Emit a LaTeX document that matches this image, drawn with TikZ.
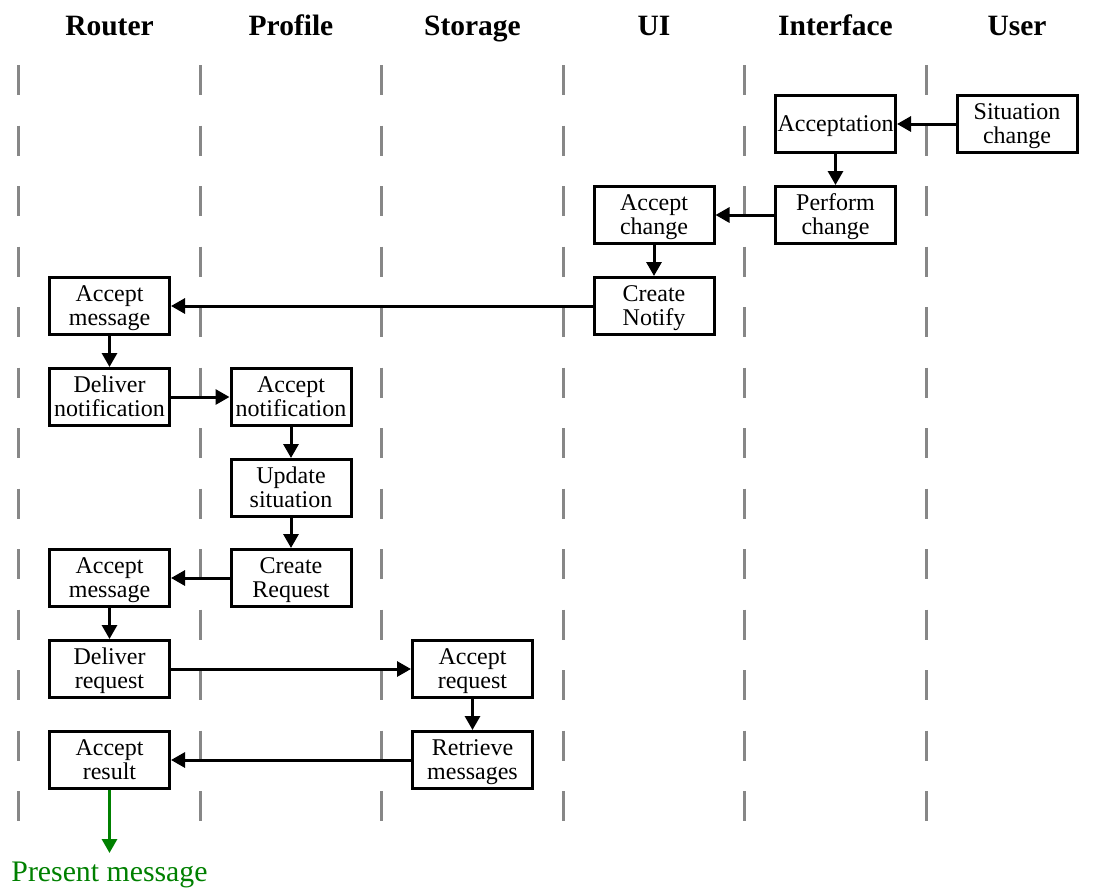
\documentclass[tikz,border=0pt]{standalone}
\usepackage{fontspec}
\setmainfont{Liberation Serif}
\usetikzlibrary{arrows.meta}
\definecolor{lanegray}{RGB}{135,135,135}
\definecolor{flowgreen}{RGB}{0,128,0}
% fixed first-line height and last-line depth so every box label sits at the same level
\newcommand\boxtopstrut{\rule{0pt}{21pt}}
\newcommand\boxbotstrut{\rule[-6pt]{0pt}{6pt}}
\begin{document}
\begin{tikzpicture}[x=1pt,y=-1pt,
  stepbox/.style={draw,line width=3pt,minimum width=120pt,minimum height=57pt,
    inner sep=0pt,text width=120pt,align=center,font=\fontsize{24}{24}\selectfont,
    execute at begin node=\boxtopstrut,execute at end node=\boxbotstrut},
  lanetitle/.style={anchor=base,font=\fontsize{29.5}{32}\selectfont\bfseries},
  lane/.style={draw=lanegray,line width=2.6pt,dash pattern=on 30pt off 30.5pt},
  flow/.style={line width=3pt,-{Triangle[length=14pt,width=15pt]}},
  result/.style={flow,draw=flowgreen,fill=flowgreen}]
\useasboundingbox (0,0) rectangle (1096,887);

% lane titles
\foreach \name [count=\i from 0] in {Router,Profile,Storage,UI,Interface,User}
  \node[lanetitle] (title\i) at (109.5+181.5*\i,35) {\name};

% lane separators
\foreach \i in {0,...,5}
  \draw[lane] (18.75+181.5*\i,65) -- (18.75+181.5*\i,821);

% activity boxes
\node[stepbox] (situation) at (1017,124) {Situation\\change};
\node[stepbox] (acceptation) at (835.5,124) {Acceptation};
\node[stepbox] (perform) at (835.5,215) {Perform\\change};
\node[stepbox] (acceptchange) at (654,215) {Accept\\change};
\node[stepbox] (notify) at (654,306) {Create\\Notify};
\node[stepbox] (acceptmsg) at (109.5,306) {Accept\\message};
\node[stepbox] (delivernote) at (109.5,397) {Deliver\\notification};
\node[stepbox] (acceptnote) at (291,397) {Accept\\notification};
\node[stepbox] (update) at (291,488) {Update\\situation};
\node[stepbox] (request) at (291,578) {Create\\Request};
\node[stepbox] (acceptmsgb) at (109.5,578) {Accept\\message};
\node[stepbox] (deliverreq) at (109.5,669) {Deliver\\request};
\node[stepbox] (acceptreq) at (472.5,669) {Accept\\request};
\node[stepbox] (retrieve) at (472.5,760) {Retrieve\\messages};
\node[stepbox] (acceptres) at (109.5,760) {Accept\\result};

% final output
\node[anchor=base,text=flowgreen,font=\fontsize{29.8}{32}\selectfont] (present) at (109.5,881) {Present message};
\coordinate (presenttop) at (109.5,853);

% control flow
\draw[flow] (situation) -- (acceptation);
\draw[flow] (acceptation) -- (perform);
\draw[flow] (perform) -- (acceptchange);
\draw[flow] (acceptchange) -- (notify);
\draw[flow] (notify) -- (acceptmsg);
\draw[flow] (acceptmsg) -- (delivernote);
\draw[flow] (delivernote) -- (acceptnote);
\draw[flow] (acceptnote) -- (update);
\draw[flow] (update) -- (request);
\draw[flow] (request) -- (acceptmsgb);
\draw[flow] (acceptmsgb) -- (deliverreq);
\draw[flow] (deliverreq) -- (acceptreq);
\draw[flow] (acceptreq) -- (retrieve);
\draw[flow] (retrieve) -- (acceptres);
\draw[result] (acceptres) -- (presenttop);
\end{tikzpicture}
\end{document}
